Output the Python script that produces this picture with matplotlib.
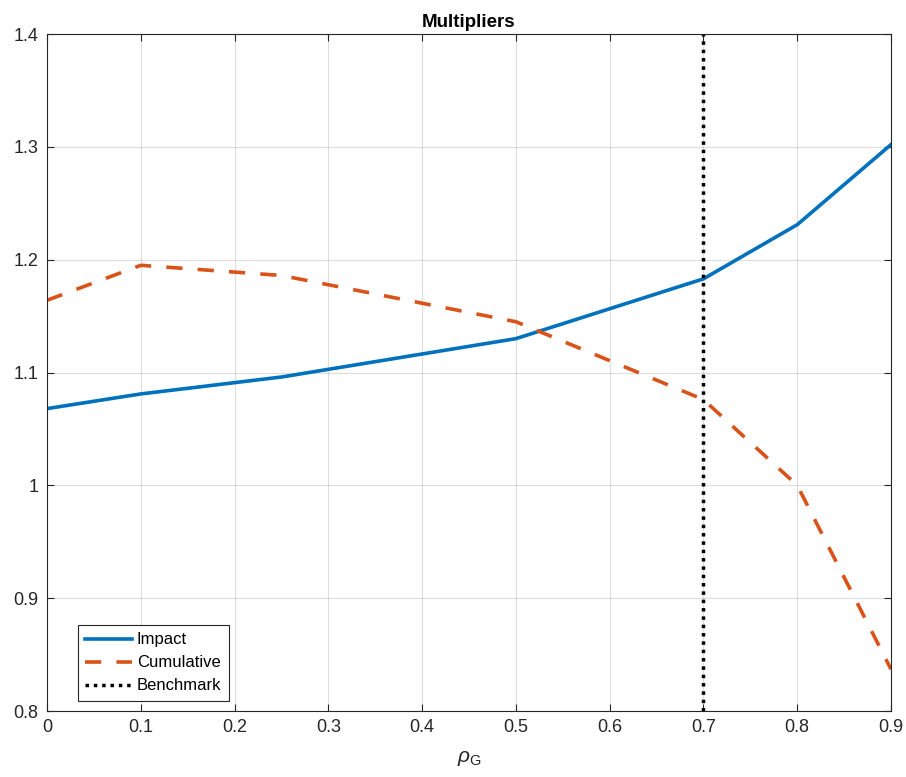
import matplotlib
matplotlib.use("Agg")
import matplotlib.pyplot as plt

plt.rcParams['font.family'] = ['Liberation Sans', 'DejaVu Sans']
plt.rcParams['mathtext.fontset'] = 'custom'
plt.rcParams['mathtext.rm'] = 'Liberation Sans'
plt.rcParams['mathtext.it'] = 'Liberation Sans:italic'

# data
rho_g = [0, 0.1, 0.25, 0.5, 0.7, 0.8, 0.9]
impact = [1.068, 1.081, 1.096, 1.130, 1.183, 1.231, 1.302]
cumulative = [1.164, 1.195, 1.186, 1.145, 1.076, 1.000, 0.837]
benchmark = 0.7

x_ticks = [0, 0.1, 0.2, 0.3, 0.4, 0.5, 0.6, 0.7, 0.8, 0.9]
y_ticks = [0.8, 0.9, 1.0, 1.1, 1.2, 1.3, 1.4]
y_ticklabels = ['0.8', '0.9', '1', '1.1', '1.2', '1.3', '1.4']

axc = '#262626'

fig = plt.figure(figsize=(9.06, 7.77), dpi=100)
ax = fig.add_axes([47/906, 1 - 711/777, 844/906, 677/777])

ax.plot(rho_g, impact, color='#0072BD', linewidth=2.6, label='Impact')
ax.plot(rho_g, cumulative, color='#D95319', linewidth=2.6, linestyle=(0, (4.5, 4.2)), label='Cumulative')
ax.axvline(benchmark, color='black', linewidth=2.5, linestyle=(0, (1, 1.4)), label='Benchmark')

ax.set_xlim(0, 0.9)
ax.set_ylim(0.8, 1.4)
ax.set_xticks(x_ticks)
ax.set_xticklabels([f'{t:g}' for t in x_ticks])
ax.set_yticks(y_ticks)
ax.set_yticklabels(y_ticklabels)
ax.grid(True, color=axc, alpha=0.15, linewidth=0.8)
ax.tick_params(direction='in', top=True, right=True, length=5, width=0.8,
               labelsize=13, colors=axc, labelcolor=axc, pad=6)
for s in ax.spines.values():
    s.set_color(axc)
    s.set_linewidth(0.8)

ax.set_title('Multipliers', fontsize=13.5, fontweight='bold', pad=5)
ax.set_xlabel(r'$\rho_{\rm G}$', fontsize=15, color=axc, labelpad=9)

leg = ax.legend(loc='lower left', bbox_to_anchor=(0.0365, 0.015), fontsize=12,
                frameon=True, fancybox=False, edgecolor=axc, framealpha=1,
                handlelength=2.8, handletextpad=0.3, borderpad=0.45, labelspacing=0.48,
                borderaxespad=0)
leg.get_frame().set_linewidth(0.8)

fig.savefig('out.png', dpi=100)
